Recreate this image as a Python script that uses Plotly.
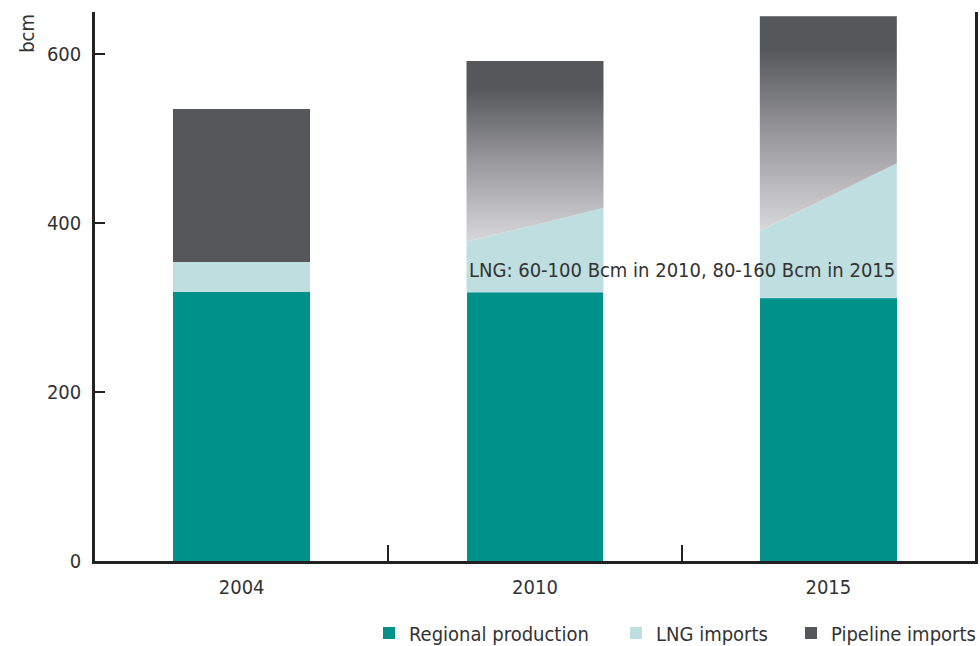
import plotly.graph_objects as go

# ---- data (bcm) ----
years = ["2004", "2010", "2015"]
regional = [318, 318, 311]
lng_low = [36, 60, 80]
lng_high = [36, 100, 160]
total = [535, 592, 645]
y_ticks = [0, 200, 400, 600]
note = "LNG: 60-100 Bcm in 2010, 80-160 Bcm in 2015"
note_pos = (1.5, 344)

# ---- styles ----
TEAL = "#00918b"
LIGHT = "#bfdedf"
DARK = "#56575b"
BAR_W = 0.467
FONT = "DejaVu Sans Condensed, Liberation Sans Narrow, sans-serif"
TXT = "#333333"
AX = "#222222"
PLOT_L, PLOT_W = 95, 880
LEGEND_SYM_X = [389, 636, 811]   # pixel centres of legend squares

xs = list(range(len(years)))
fig = go.Figure()

fig.add_trace(go.Bar(x=xs, y=regional, width=BAR_W, marker=dict(color=TEAL, line=dict(width=0)),
                     name="Regional production", hoverinfo="skip", legend="legend"))
fig.add_trace(go.Bar(x=[xs[0]], y=[lng_low[0]], width=BAR_W, marker=dict(color=LIGHT, line=dict(width=0)),
                     name="LNG imports", hoverinfo="skip", legend="legend2"))
fig.add_trace(go.Bar(x=[xs[0]], y=[total[0] - regional[0] - lng_low[0]], width=BAR_W,
                     marker=dict(color=DARK, line=dict(width=0)),
                     name="Pipeline imports", hoverinfo="skip", legend="legend3"))

# uncertain LNG / pipeline split for 2010 and 2015
for i in (1, 2):
    xl, xr = xs[i] - BAR_W / 2, xs[i] + BAR_W / 2
    base = regional[i]
    lo, hi = base + lng_low[i], base + lng_high[i]
    fig.add_trace(go.Scatter(
        x=[xl, xr, xr, xl, xl], y=[base, base, hi, lo, base],
        mode="lines", fill="toself", fillcolor=LIGHT, line=dict(width=0),
        showlegend=False, hoverinfo="skip"))
    fig.add_trace(go.Scatter(
        x=[xl, xr, xr, xl, xl], y=[lo, hi, total[i], total[i], lo],
        mode="lines", fill="toself", line=dict(width=0),
        fillgradient=dict(type="vertical",
                          colorscale=[[0, "#d8d8da"], [0.45, "#98989c"], [0.85, DARK], [1, DARK]],
                          start=lo, stop=total[i]),
        showlegend=False, hoverinfo="skip"))

fig.add_annotation(x=note_pos[0], y=note_pos[1], text=note, showarrow=False,
                   font=dict(family=FONT, size=20, color=TXT), xanchor="center", yanchor="middle")

fig.add_annotation(xref="paper", yref="paper", x=-0.078, y=1.0, text="bcm", textangle=-90,
                   showarrow=False, xanchor="center", yanchor="top",
                   font=dict(family=FONT, size=20, color=TXT))

leg_common = dict(orientation="h", y=-0.131, yanchor="middle", xanchor="left",
                  font=dict(family=FONT, size=20, color=TXT), itemwidth=30,
                  bgcolor="rgba(0,0,0,0)", borderwidth=0)
fig.update_layout(
    width=980, height=646,
    margin=dict(l=PLOT_L, r=5, t=12, b=85, autoexpand=False),
    barmode="stack",
    bargap=0,
    plot_bgcolor="white", paper_bgcolor="white",
    font=dict(family=FONT, size=20, color=TXT),
    showlegend=True,
    legend=dict(x=(LEGEND_SYM_X[0] - 20 - PLOT_L) / PLOT_W, **leg_common),
    legend2=dict(x=(LEGEND_SYM_X[1] - 20 - PLOT_L) / PLOT_W, **leg_common),
    legend3=dict(x=(LEGEND_SYM_X[2] - 20 - PLOT_L) / PLOT_W, **leg_common),
)
fig.update_xaxes(range=[-0.5, 2.5], tickmode="array", tickvals=xs, ticktext=years,
                 ticks="", showgrid=False, zeroline=False,
                 showline=True, linecolor=AX, linewidth=2.5,
                 ticklabelstandoff=6, tickfont=dict(size=20),
                 minor=dict(tickmode="array", tickvals=[0.5, 1.5], ticks="inside",
                            ticklen=16, tickwidth=1.5, tickcolor=AX, showgrid=False))
fig.update_yaxes(range=[0, 650], tickmode="array", tickvals=y_ticks,
                 ticks="inside", ticklen=10, tickwidth=1.5, tickcolor=AX,
                 showgrid=False, zeroline=False,
                 showline=True, linecolor=AX, linewidth=2.5, mirror=True,
                 ticklabelstandoff=7, tickfont=dict(size=20))

fig.write_html("out.html")
